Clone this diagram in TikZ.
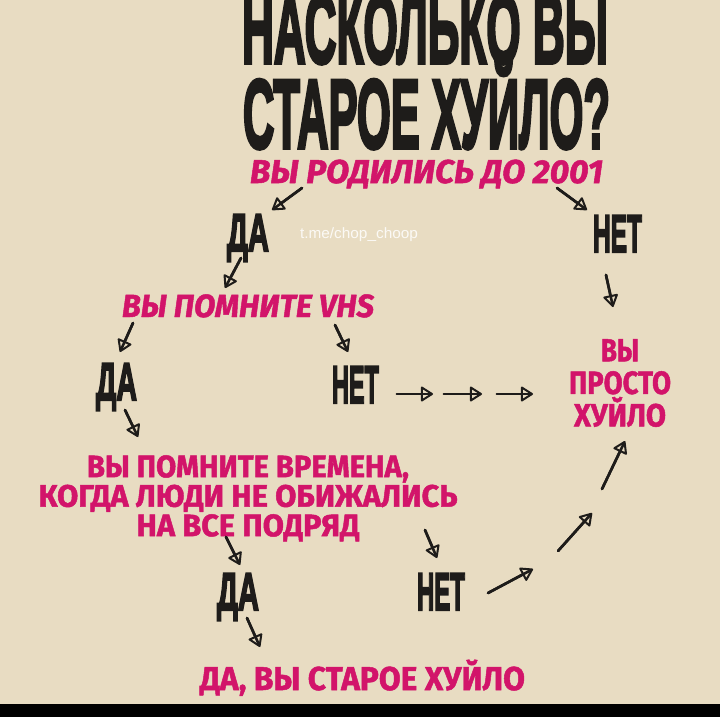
\documentclass[tikz,border=0pt]{standalone}
\usepackage{fontspec}
\usepackage{graphicx}
\setmainfont{Fira Sans}[BoldFeatures={FakeBold=1.5}, BoldItalicFeatures={FakeBold=1.5}]
\newfontfamily\headfont{Liberation Sans}[BoldFeatures={FakeBold=4}]
\usetikzlibrary{arrows.meta}
\definecolor{paper}{HTML}{E8DCC2}
\definecolor{marker}{HTML}{D2146A}
\definecolor{ink}{HTML}{1E1C1A}
%squeeze a text to a given width, keeping its height
\newcommand{\fitw}[2]{\resizebox{#1pt}{\height}{#2}}
\tikzset{
  head/.style={inner sep=0pt, anchor=base, text=ink, font=\headfont\bfseries\fontsize{#1}{#1}\selectfont},
  title/.style={head=98},
  yn/.style={head=53},
  say/.style={inner sep=0pt, anchor=base, text=marker, font=\bfseries\fontsize{#1}{#1}\selectfont},
  ask/.style={say=#1, font=\bfseries\itshape\fontsize{#1}{#1}\selectfont},
  arr/.style={draw=ink, line width=2.6pt, line cap=round, line join=round,
    -{Triangle[open,round,length=13pt,width=16pt,line width=2pt]},
    postaction={draw=ink, line width=2.6pt, -, shorten >=2pt}}
}
\begin{document}
\begin{tikzpicture}[x=1pt,y=-1pt]
\useasboundingbox (0,0) rectangle (720,717);
%paper
\fill[paper] (0,0) rectangle (720,717);
\fill[black] (0,704) rectangle (720,717);
%title
\node[title] (top1) at (425,63) {\fitw{366}{НАСКОЛЬКО ВЫ}};
\node[title] (top2) at (426.5,148) {\fitw{367}{СТАРОЕ ХУЙЛО?}};
\node[inner sep=0pt, anchor=base, text=white, opacity=0.85, font=\headfont\fontsize{15}{15}\selectfont] (tag) at (359,238) {\fitw{118}{t.me/chop\_choop}};
%questions and answers
\node[ask=33] (q1) at (426.5,183) {\fitw{353}{ВЫ РОДИЛИСЬ ДО 2001}};
\node[yn] (yes1) at (248,251) {\fitw{42}{ДА}};
\node[yn] (no1) at (617.5,252) {\fitw{49}{НЕТ}};
\node[ask=32] (q2) at (248,317) {\fitw{252}{ВЫ ПОМНИТЕ VHS}};
\node[yn] (yes2) at (116.5,400) {\fitw{41}{ДА}};
\node[yn] (no2) at (355.5,403) {\fitw{47}{НЕТ}};
\node[say=32, anchor=north, align=center, font=\bfseries\fontsize{32}{32.5}\selectfont] (just) at (620,339)
  {\fitw{38}{ВЫ}\\\fitw{102}{ПРОСТО}\\\fitw{92}{ХУЙЛО}};
\node[say=31, anchor=north, align=center, font=\bfseries\fontsize{31}{29.5}\selectfont] (q3) at (248,455)
  {\fitw{322}{ВЫ ПОМНИТЕ ВРЕМЕНА,}\\\fitw{419}{КОГДА ЛЮДИ НЕ ОБИЖАЛИСЬ}\\\fitw{223}{НА ВСЕ ПОДРЯД}};
\node[yn] (yes3) at (238,610) {\fitw{42}{ДА}};
\node[yn] (no3) at (441,610) {\fitw{48}{НЕТ}};
\node[say=33] (old) at (362.5,690) {\fitw{325}{ДА, ВЫ СТАРОЕ ХУЙЛО}};
%hand drawn arrows, tail and head
\foreach \n/\ax/\ay/\bx/\by in {q1y/302/188/272/210, q1n/557/188/587/210, y1q/241/258/225/288, n1j/606/275/613/307,
  q2y/133/323/120/352, q2n/335/325/348/352, y2q/125/410/138/437,
  n2ja/397/394/433/394, n2jb/444/394/482/394, n2jc/497/394/533/394,
  q3y/226/537/240/565, q3n/425/530/437/558, y3o/247/618/260/647,
  n3ja/488/593/533/569, n3jb/558/551/592/513, n3jc/602/489/625/441}
  {\coordinate (\n0) at (\ax,\ay);
   \coordinate (\n1) at (\bx,\by);
   \draw[arr] (\n0) -- (\n1);}
\end{tikzpicture}
\end{document}
